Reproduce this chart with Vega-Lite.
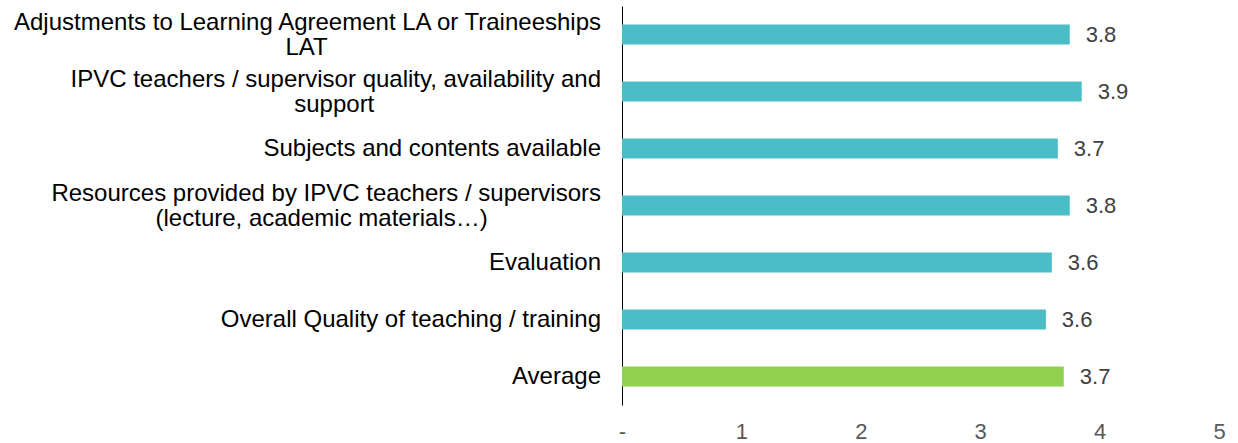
{
  "$schema": "https://vega.github.io/schema/vega-lite/v6.json",
  "autosize": "none",
  "width": 597,
  "height": 399,
  "padding": {"left": 622, "top": 6, "right": 19, "bottom": 38},
  "background": "white",
  "config": {"view": {"stroke": null}, "font": "Liberation Sans"},
  "data": {"values": [
    {"item": ["Adjustments to Learning Agreement LA or Traineeships", "LAT\u00a0\u00a0\u00a0\u00a0\u00a0\u00a0\u00a0\u00a0\u00a0\u00a0\u00a0\u00a0\u00a0\u00a0\u00a0\u00a0\u00a0\u00a0\u00a0\u00a0\u00a0\u00a0\u00a0\u00a0\u00a0\u00a0\u00a0\u00a0\u00a0\u00a0\u00a0\u00a0\u00a0\u00a0\u00a0\u00a0\u00a0\u00a0\u00a0\u00a0\u00a0\u2060"], "key": "a", "value": 3.75, "label": "3.8", "kind": "item"},
    {"item": ["IPVC teachers / supervisor quality, availability and", "support\u00a0\u00a0\u00a0\u00a0\u00a0\u00a0\u00a0\u00a0\u00a0\u00a0\u00a0\u00a0\u00a0\u00a0\u00a0\u00a0\u00a0\u00a0\u00a0\u00a0\u00a0\u00a0\u00a0\u00a0\u00a0\u00a0\u00a0\u00a0\u00a0\u00a0\u00a0\u00a0\u00a0\u00a0\u2060"], "key": "b", "value": 3.85, "label": "3.9", "kind": "item"},
    {"item": "Subjects and contents available", "key": "c", "value": 3.65, "label": "3.7", "kind": "item"},
    {"item": ["Resources provided by IPVC teachers / supervisors", "(lecture, academic materials\u2026)\u00a0\u00a0\u00a0\u00a0\u00a0\u00a0\u00a0\u00a0\u00a0\u00a0\u00a0\u00a0\u00a0\u00a0\u00a0\u00a0\u00a0\u2060"], "key": "d", "value": 3.75, "label": "3.8", "kind": "item"},
    {"item": "Evaluation", "key": "e", "value": 3.6, "label": "3.6", "kind": "item"},
    {"item": "Overall Quality of teaching / training", "key": "f", "value": 3.55, "label": "3.6", "kind": "item"},
    {"item": "Average", "key": "g", "value": 3.7, "label": "3.7", "kind": "avg"}
  ]},
  "encoding": {
    "y": {
      "field": "key", "type": "nominal", "sort": null,
      "scale": {"paddingInner": 0.65, "paddingOuter": 0.325},
      "axis": {
        "title": null, "ticks": false, "domainColor": "#000000", "domainWidth": 1,
        "labels": false
      }
    },
    "x": {
      "field": "value", "type": "quantitative",
      "scale": {"domain": [0, 5], "nice": false},
      "axis": {
        "title": null, "domain": false, "ticks": false, "grid": false,
        "values": [0, 1, 2, 3, 4, 5],
        "labelExpr": "datum.value == 0 ? '-' : datum.label",
        "labelFlush": false, "labelOverlap": false,
        "labelFontSize": 22, "labelColor": "#595959", "labelPadding": 16,
        "labelFont": "Liberation Sans"
      }
    }
  },
  "layer": [
    {
      "mark": {"type": "bar"},
      "encoding": {
        "color": {"field": "kind", "type": "nominal", "scale": {"domain": ["item", "avg"], "range": ["#4ABDC7", "#92D050"]}, "legend": null}
      }
    },
    {
      "mark": {"type": "text", "align": "left", "baseline": "middle", "dx": 16, "fontSize": 22, "color": "#404040", "font": "Liberation Sans"},
      "encoding": {"text": {"field": "label"}}
    },
    {
      "transform": [{"filter": "!isArray(datum.item)"}],
      "mark": {"type": "text", "align": "right", "baseline": "middle", "fontSize": 24, "color": "#000000", "font": "Liberation Sans", "lineHeight": 25, "xOffset": -21},
      "encoding": {"text": {"field": "item"}, "x": {"datum": 0}}
    },
    {
      "transform": [{"filter": "isArray(datum.item)"}],
      "mark": {"type": "text", "align": "right", "baseline": "middle", "fontSize": 24, "color": "#000000", "font": "Liberation Sans", "lineHeight": 25, "xOffset": -21, "yOffset": -12},
      "encoding": {"text": {"field": "item"}, "x": {"datum": 0}}
    }
  ]
}
